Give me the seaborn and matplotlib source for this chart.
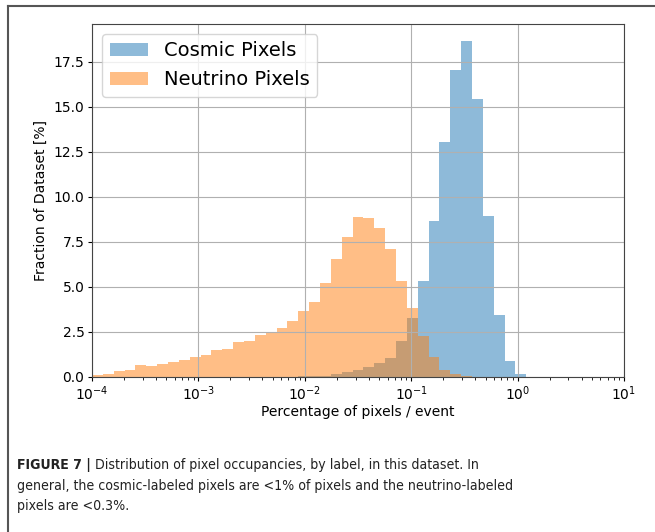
import seaborn as sns
import pandas as pd
import matplotlib.pyplot as plt
import matplotlib.font_manager as fm
import numpy as np

# histogram heights in % of dataset, 49 log-spaced bins from 1e-4 to 1e1
cosmic = [0, 0, 0, 0, 0, 0, 0, 0, 0, 0,
          0, 0, 0, 0, 0, 0.01, 0.01, 0.02, 0.02, 0.03,
          0.05, 0.07, 0.14, 0.25, 0.38, 0.55, 0.78, 1.05, 2.02, 3.30,
          5.33, 8.67, 13.04, 17.06, 18.67, 15.44, 8.94, 3.44, 0.89, 0.14,
          0.02, 0, 0, 0, 0, 0, 0, 0, 0]
neutrino = [0.11, 0.17, 0.33, 0.38, 0.64, 0.60, 0.72, 0.84, 0.94, 1.10,
            1.22, 1.49, 1.58, 1.94, 2.00, 2.33, 2.46, 2.72, 3.09, 3.65,
            4.18, 5.20, 6.55, 7.80, 8.88, 8.81, 8.28, 7.13, 5.35, 3.81,
            2.30, 1.13, 0.39, 0.15, 0.05, 0.02, 0, 0, 0, 0,
            0, 0, 0, 0, 0, 0, 0, 0, 0]
labels = ['Cosmic Pixels', 'Neutrino Pixels']

edges = np.logspace(-4, 1, len(cosmic) + 1)
centers = np.sqrt(edges[:-1] * edges[1:])

df = pd.DataFrame({'occupancy': np.concatenate([centers, centers]),
                   'fraction': cosmic + neutrino,
                   'label': [labels[0]] * len(cosmic) + [labels[1]] * len(neutrino)})

fig = plt.figure(figsize=(6.55, 5.32), dpi=100)
ax = fig.add_axes([0.1405, 0.2914, 0.8122, 0.6635])

for name, color in zip(labels, ['tab:blue', 'tab:orange']):
    sns.histplot(data=df[df.label == name], x='occupancy', weights='fraction',
                 bins=len(cosmic), binrange=(-4, 1), log_scale=True,
                 element='step', fill=True, color=color, alpha=0.5,
                 linewidth=0, label=name, ax=ax)

ax.set_xlim(1e-4, 1e1)
ax.set_ylim(0, 19.6)
ax.grid(True, which='major', color='#b0b0b0', linewidth=0.8)
ax.tick_params(which='major', length=3, pad=2.5)
ax.tick_params(which='minor', length=2)
for s in ax.spines.values():
    s.set_color('#444444')
ax.set_xlabel('Percentage of pixels / event', labelpad=1.5)
ax.set_ylabel('Fraction of Dataset [%]')
ax.legend(loc='upper left', fontsize=14)

# page frame
fig.add_artist(plt.Line2D([8 / 655, 8 / 655], [0, 1 - 6 / 532], color='#555555', lw=1.5))
fig.add_artist(plt.Line2D([8 / 655, 1], [1 - 6 / 532, 1 - 6 / 532], color='#555555', lw=1.5))

# caption, in a narrow face if one is installed
names = {f.name for f in fm.fontManager.ttflist}
cond = [f for f in fm.fontManager.ttflist
        if f.name == 'DejaVu Sans' and 'Condensed' in f.fname]
if 'Liberation Sans Narrow' in names:
    cap = dict(family='Liberation Sans Narrow', fontsize=11.3)
elif cond:
    cap = dict(family='DejaVu Sans', stretch='condensed', fontsize=10.05)
else:
    cap = dict(family='Liberation Sans', fontsize=10.4)

t = fig.text(17 / 655, 1 - 469 / 532, 'FIGURE 7 |', fontweight='bold',
             color='#222222', va='baseline', **cap)
ax.annotate(' Distribution of pixel occupancies, by label, in this dataset. In',
            xy=(1, 0), xycoords=t, va='bottom', ha='left',
            color='#222222', annotation_clip=False, **cap)
fig.text(17 / 655, 1 - 490 / 532,
         'general, the cosmic-labeled pixels are <1% of pixels and the neutrino-labeled',
         color='#222222', va='baseline', **cap)
fig.text(17 / 655, 1 - 510 / 532, 'pixels are <0.3%.',
         color='#222222', va='baseline', **cap)

plt.savefig('out.png', dpi=100)
